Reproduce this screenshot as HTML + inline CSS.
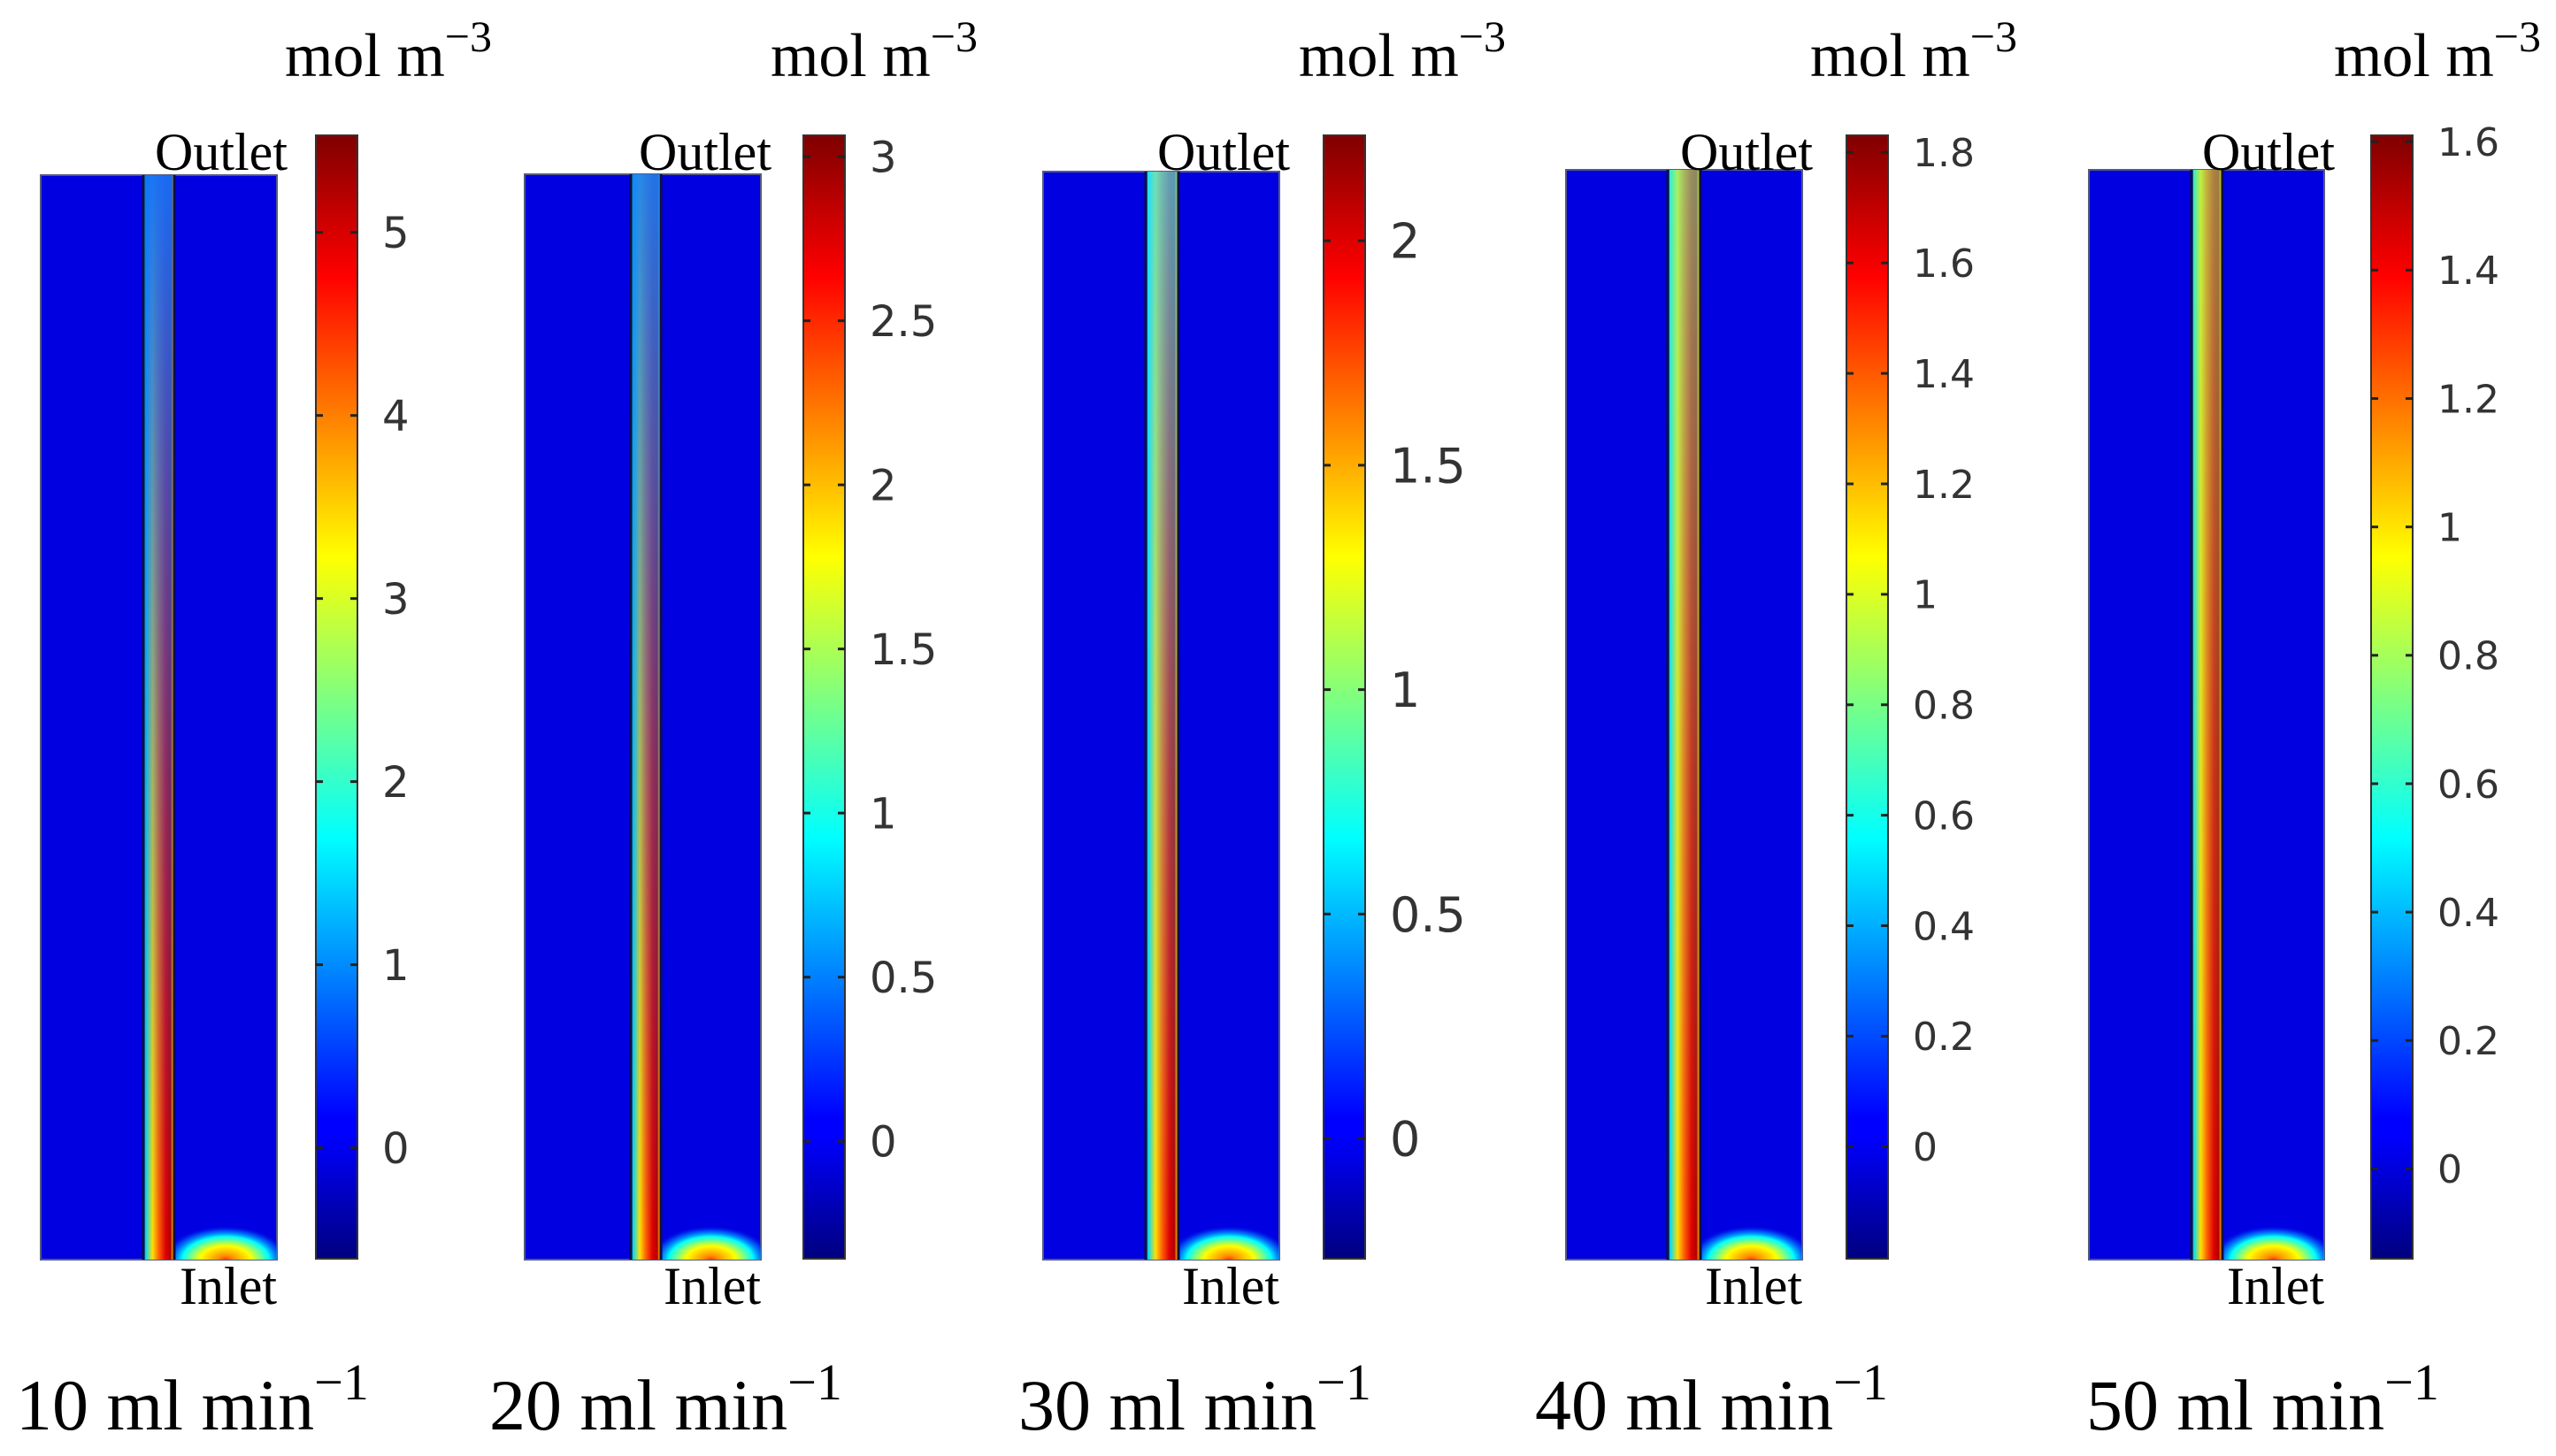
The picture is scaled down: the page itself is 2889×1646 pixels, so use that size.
<!DOCTYPE html>
<html><head><meta charset="utf-8">
<style>
html,body{margin:0;padding:0;background:#fff;}
svg{display:block;}
</style></head>
<body>
<svg id="fig" width="2889" height="1646" viewBox="0 0 2889 1646" xmlns="http://www.w3.org/2000/svg">
<defs>
<linearGradient id="jet" x1="0" y1="1" x2="0" y2="0">
<stop offset="0" stop-color="#00007f"/><stop offset="0.11" stop-color="#0000ff"/>
<stop offset="0.125" stop-color="#0000ff"/><stop offset="0.375" stop-color="#00ffff"/>
<stop offset="0.625" stop-color="#ffff00"/><stop offset="0.875" stop-color="#ff0000"/>
<stop offset="1" stop-color="#7f0000"/></linearGradient>
<linearGradient id="chanH" x1="0" y1="0" x2="1" y2="0">
<stop offset="0" stop-color="#000050"/><stop offset="0.07" stop-color="#00d8ff"/>
<stop offset="0.3" stop-color="#ffe000"/><stop offset="0.5" stop-color="#ff6000"/>
<stop offset="0.72" stop-color="#e00000"/><stop offset="0.88" stop-color="#b00000"/>
<stop offset="0.95" stop-color="#ffa000"/><stop offset="1" stop-color="#000050"/></linearGradient>
<radialGradient id="inletGlow" cx="0.5" cy="1" r="0.62" fx="0.5" fy="1">
<stop offset="0" stop-color="#ff4000"/><stop offset="0.12" stop-color="#ff9000"/>
<stop offset="0.4" stop-color="#ffff00"/><stop offset="0.68" stop-color="#00ffff"/>
<stop offset="0.86" stop-color="#0070ff" stop-opacity="0.6"/><stop offset="1" stop-color="#0000e0" stop-opacity="0"/></radialGradient>
</defs>
</svg>
<script>
const titles = ["10 ml min", "20 ml min", "30 ml min", "40 ml min", "50 ml min"];
const cbMin = [-0.606, -0.358, -0.268, -0.203, -0.14];
const cbMax = [5.53, 3.065, 2.235, 1.831, 1.61];
const ticks0 = [0,1,2,3,4,5];
const ticks1 = [0,0.5,1,1.5,2,2.5,3];
const ticks2 = [0,0.5,1,1.5,2];
const ticks3 = [0,0.2,0.4,0.6,0.8,1,1.2,1.4,1.6,1.8];
const ticks4 = [0,0.2,0.4,0.6,0.8,1,1.2,1.4,1.6];
const channelTopFade = [0.95, 0.9, 0.7, 0.55, 0.5];
const fadeColor = ['#1070ff','#1080ff','#30e0ff','#60ffb0','#80ff80'];

const allTicks=[ticks0,ticks1,ticks2,ticks3,ticks4];
const plotX=[46,593,1179,1770,2361], plotW=[267,267,267,267,266];
const plotTop=[198,197,194,192,192], plotBot=1424;
const chanX=[162,713,1295,1885,2477], chanW=[35,34,37,37,35];
const cbX=[357,908,1496,2087,2680], cbW=47, cbTop=153, cbBot=1423;
const tickFont=[48,48,54,44,44];
const titleX=[18,553,1151,1735,2358];
const unitRight=[556,1105,1702,2280,2872];
const NS="http://www.w3.org/2000/svg";
const svg=document.getElementById('fig');
function mk(tag,attrs,parent){const e=document.createElementNS(NS,tag);for(const k in attrs)e.setAttribute(k,attrs[k]);(parent||svg).appendChild(e);return e;}
const defs=svg.querySelector('defs');
for(let i=0;i<5;i++){
  const g=mk('g',{});
  
  
  const fg=mk('linearGradient',{id:'fade'+i,x1:0,y1:0,x2:0,y2:1},defs);
  mk('stop',{offset:0,'stop-color':fadeColor[i],'stop-opacity':channelTopFade[i]},fg);
  mk('stop',{offset:0.55,'stop-color':fadeColor[i],'stop-opacity':channelTopFade[i]*0.4},fg);
  mk('stop',{offset:1,'stop-color':fadeColor[i],'stop-opacity':0},fg);
  const h=plotBot-plotTop[i];
  const bg=mk('rect',{x:plotX[i],y:plotTop[i],width:plotW[i],height:h,fill:'#0000e0',stroke:'#555a80','stroke-width':2},g);
  
  
  const right=chanX[i]+chanW[i];
  const gw=plotX[i]+plotW[i]-right;
  const gl=mk('rect',{x:right,y:plotBot-62,width:gw,height:62,fill:'url(#inletGlow)'},g);
  
  
  const ch=mk('rect',{x:chanX[i],y:plotTop[i],width:chanW[i],height:h,fill:'url(#chanH)'},g);
  
  
  mk('rect',{x:chanX[i]+2,y:plotTop[i],width:chanW[i]-4,height:h,fill:'url(#fade'+i+')'},g);
  mk('line',{x1:chanX[i],x2:chanX[i],y1:plotTop[i],y2:plotBot,stroke:'#101040','stroke-width':3},g);
  mk('line',{x1:right,x2:right,y1:plotTop[i],y2:plotBot,stroke:'#101040','stroke-width':3},g);
  const cb=mk('rect',{x:cbX[i],y:cbTop,width:cbW,height:cbBot-cbTop,fill:'url(#jet)',stroke:'#333','stroke-width':2},g);
  
  
  const yScale=v=>cbBot-(v-cbMin[i])/(cbMax[i]-cbMin[i])*(cbBot-cbTop);
  allTicks[i].forEach(v=>{
    const y=yScale(v);
    mk('line',{x1:cbX[i],x2:cbX[i]+8,y1:y,y2:y,stroke:'#222','stroke-width':3},g);
    mk('line',{x1:cbX[i]+cbW-8,x2:cbX[i]+cbW,y1:y,y2:y,stroke:'#222','stroke-width':3},g);
    const t=mk('text',{x:cbX[i]+cbW+28,y:y+tickFont[i]*0.36,'font-family':'DejaVu Sans, sans-serif','font-size':tickFont[i],fill:'#333'},g);
    
    
    t.textContent=String(v);
  });
  const u=mk('text',{x:unitRight[i],y:86,'text-anchor':'end','font-family':'Liberation Serif, serif','font-size':70,fill:'#000'},g);
  
  
  u.innerHTML='mol m<tspan dy="-28" font-size="50">−3</tspan>';
  const o=mk('text',{x:plotX[i]+plotW[i]+12,y:192,'text-anchor':'end','font-family':'Liberation Serif, serif','font-size':60,fill:'#000'},g);
  
  
  o.textContent='Outlet';
  const n=mk('text',{x:plotX[i]+plotW[i],y:1474,'text-anchor':'end','font-family':'Liberation Serif, serif','font-size':60,fill:'#000'},g);
  
  
  n.textContent='Inlet';
  const tt=mk('text',{x:titleX[i],y:1616,'font-family':'Liberation Serif, serif','font-size':82,fill:'#000'},g);
  
  
  tt.innerHTML=titles[i]+'<tspan dy="-34" font-size="58">−1</tspan>';
}
</script>
</body></html>
